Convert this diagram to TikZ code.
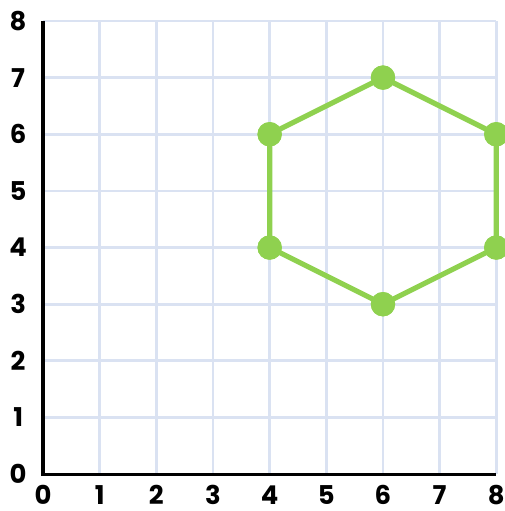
\documentclass[tikz,border=0pt]{standalone}
\usepackage{fontspec}
\setmainfont{Poppins}
\usetikzlibrary{positioning}
\definecolor{gridblue}{RGB}{218, 226, 242}
\definecolor{hexgreen}{RGB}{143, 209, 79}

\tikzset{
  vertex/.style={circle, fill=hexgreen, inner sep=0pt, minimum size=0.43cm},
  edge/.style={draw=hexgreen, line width=2.6pt},
  axislabel/.style={font=\bfseries\fontsize{13}{13}\selectfont, inner sep=0pt, text depth=0pt}
}

\begin{document}
\begin{tikzpicture}
  \useasboundingbox (-0.76,-0.65) rectangle (8.15,8.37);
  \draw[gridblue, line width=1.4pt] (0,0) grid (8,8);
  \draw[black, line width=1.6pt] (0,8) -- (0,0) -- (8,0);
  \foreach \i in {0,...,8} {
    \node[axislabel] (x\i) at (\i,-0.37) {\i};
    \node[axislabel] (y\i) at (-0.44,\i) {\i};
  }
  % hexagon
  \node[vertex] (a) at (4,4) {};
  \node[vertex] (b) at (4,6) {};
  \node[vertex] (c) at (6,7) {};
  \node[vertex] (d) at (8,6) {};
  \node[vertex] (e) at (8,4) {};
  \node[vertex] (f) at (6,3) {};
  \draw[edge] (a.center) -- (b.center) -- (c.center) -- (d.center) -- (e.center) -- (f.center) -- cycle;
  \foreach \v in {a,b,c,d,e,f} \node[vertex] at (\v) {};
\end{tikzpicture}
\end{document}
